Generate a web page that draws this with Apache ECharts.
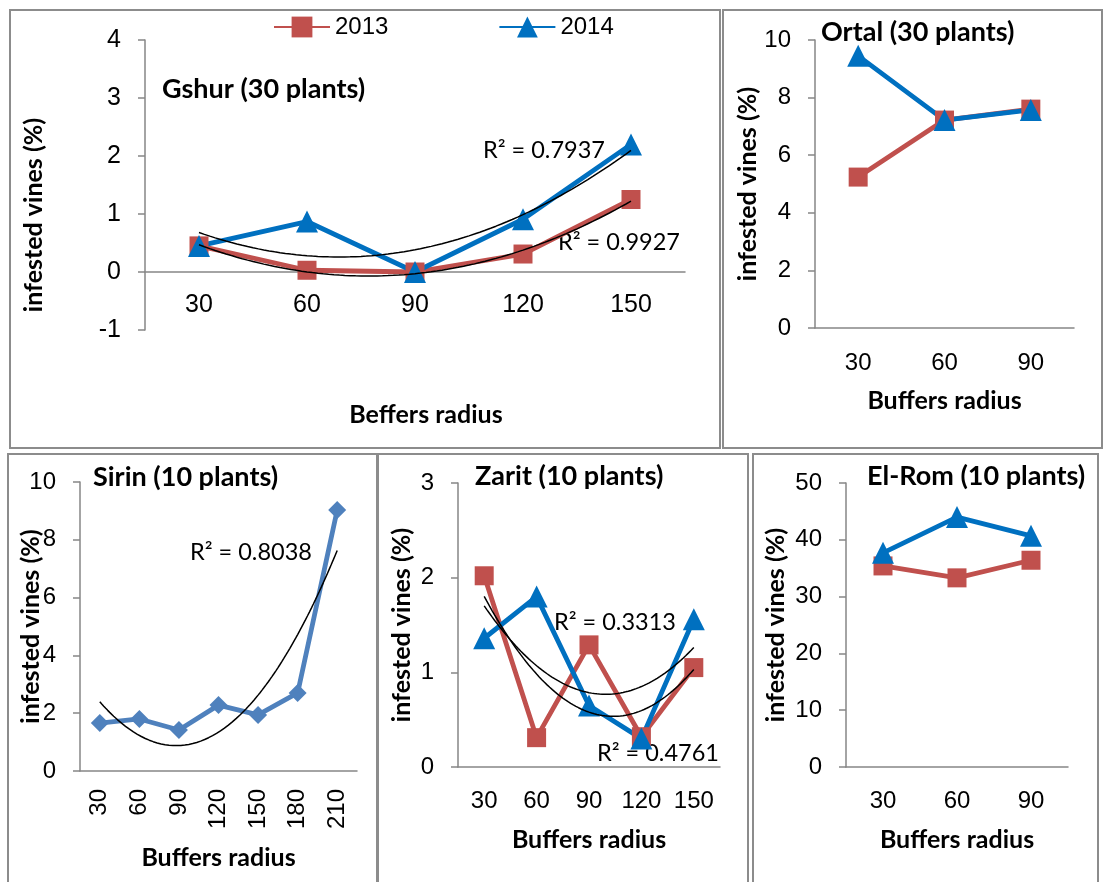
<!DOCTYPE html>
<html>
<head>
<meta charset="utf-8">
<script src="https://cdn.jsdelivr.net/npm/echarts@6/dist/echarts.min.js"></script>
<style>
html, body { margin: 0; padding: 0; background: #fff; }
#chart { width: 1105px; height: 882px; }
</style>
</head>
<body>
<div id="chart"></div>
<script>
// values (infested vines, %)
const gshurRadius = ['30', '60', '90', '120', '150'];
const gshur2013 = [0.45, 0.03, 0, 0.31, 1.25];
const gshur2014 = [0.45, 0.87, 0, 0.91, 2.2];

const ortalRadius = ['30', '60', '90'];
const ortal2013 = [5.24, 7.22, 7.6];
const ortal2014 = [9.45, 7.22, 7.57];

const sirinRadius = ['30', '60', '90', '120', '150', '180', '210'];
const sirinValues = [1.66, 1.8, 1.42, 2.28, 1.94, 2.7, 9.03];

const zaritRadius = ['30', '60', '90', '120', '150'];
const zarit2013 = [2.02, 0.31, 1.29, 0.32, 1.05];
const zarit2014 = [1.36, 1.8, 0.65, 0.3, 1.56];

const elRomRadius = ['30', '60', '90'];
const elRom2013 = [35.4, 33.3, 36.4];
const elRom2014 = [37.7, 44.0, 40.7];

const RED = '#C0504D', BLUE = '#0070C0', STEEL = '#4F81BD', AXIS = '#868686';
const CAL = 'Lato, "Open Sans", sans-serif';
const ARIAL = '"Liberation Sans", Arial, sans-serif';

// 2nd order polynomial trendline (least squares on category index)
function quadFit(ys) {
  const s = [0, 0, 0, 0, 0], t = [0, 0, 0];
  ys.forEach((y, x) => {
    for (let k = 0; k < 5; k++) s[k] += Math.pow(x, k);
    for (let k = 0; k < 3; k++) t[k] += y * Math.pow(x, k);
  });
  const m = [[s[0], s[1], s[2], t[0]], [s[1], s[2], s[3], t[1]], [s[2], s[3], s[4], t[2]]];
  for (let i = 0; i < 3; i++) {
    for (let j = i + 1; j < 3; j++) {
      const f = m[j][i] / m[i][i];
      for (let k = i; k < 4; k++) m[j][k] -= f * m[i][k];
    }
  }
  const r = [0, 0, 0];
  for (let i = 2; i >= 0; i--) {
    let v = m[i][3];
    for (let k = i + 1; k < 3; k++) v -= m[i][k] * r[k];
    r[i] = v / m[i][i];
  }
  return r;
}
function trend(ys) {
  const [a, b, c] = quadFit(ys), pts = [];
  for (let x = 0; x <= ys.length - 1 + 1e-9; x += 0.05) pts.push([x, a + b * x + c * x * x]);
  return pts;
}

const grids = [
  { left: 145, top: 40, width: 540, height: 290 },
  { left: 815, top: 40, width: 259, height: 288 },
  { left: 80, top: 482, width: 277, height: 289 },
  { left: 458, top: 483, width: 262, height: 284 },
  { left: 846, top: 483, width: 222, height: 284 }
];
const cats = [gshurRadius, ortalRadius, sirinRadius, zaritRadius, elRomRadius];
const xNames = ['Beffers radius', 'Buffers radius', 'Buffers radius', 'Buffers radius', 'Buffers radius'];
const xNameGap = [130, 60, 74, 60, 60];
const xOffset = [-58, 0, 0, 0, 0]; // gshur category axis sits on y = 0
const labelSize = [25, 24, 24, 24, 24];
const xLabelMargin = [21, 23, 18, 22, 22];
const yRange = [[-1, 4, 1], [0, 10, 2], [0, 10, 2], [0, 3, 1], [0, 50, 10]];
const yNameGap = [99, 55, 37, 44, 58];

const axisLine = { onZero: false, lineStyle: { color: AXIS, width: 1.5 } };
const axisTick = { length: 7, lineStyle: { color: AXIS, width: 1.5 } };
const nameStyle = { fontFamily: CAL, fontWeight: 'bold', fontSize: 25, color: '#000' };

const xAxis = [], yAxis = [];
cats.forEach((c, i) => {
  xAxis.push({
    type: 'category', gridIndex: i, data: c, position: 'bottom', offset: xOffset[i],
    axisLine: axisLine, axisTick: axisTick,
    axisLabel: {
      fontFamily: ARIAL, fontSize: labelSize[i], color: '#000',
      margin: xLabelMargin[i], rotate: i === 2 ? 90 : 0
    },
    name: xNames[i], nameLocation: 'middle', nameGap: xNameGap[i], nameMoveOverlap: false,
    nameTextStyle: Object.assign({}, nameStyle, i === 0 ? { padding: [0, 0, 0, 22] } : {})
  });
  yAxis.push({
    type: 'value', gridIndex: i, min: yRange[i][0], max: yRange[i][1], interval: yRange[i][2],
    position: 'left',
    axisLine: Object.assign({ show: true }, axisLine),
    axisTick: Object.assign({ show: true }, axisTick),
    splitLine: { show: false },
    axisLabel: { fontFamily: ARIAL, fontSize: labelSize[i], color: '#000', margin: 24 },
    name: 'infested vines (%)', nameLocation: 'middle', nameGap: yNameGap[i], nameMoveOverlap: false,
    nameTextStyle: Object.assign({}, nameStyle, i === 0 ? { padding: [0, 60, 0, 0] } : {})
  });
});
// hidden value axes for the trendlines, aligned with the category centres
cats.forEach((c, i) => {
  xAxis.push({ type: 'value', gridIndex: i, min: -0.5, max: c.length - 0.5, show: false });
});

function dataLine(name, data, i, color, symbol, size) {
  return {
    name: name, type: 'line', xAxisIndex: i, yAxisIndex: i, data: data,
    symbol: symbol, symbolSize: size, showSymbol: true,
    lineStyle: { color: color, width: 4.8 }, itemStyle: { color: color },
    emphasis: { disabled: true }, z: 3
  };
}
function trendLine(data, i) {
  return {
    type: 'line', xAxisIndex: 5 + i, yAxisIndex: i, data: trend(data),
    symbol: 'none', silent: true, lineStyle: { color: '#000', width: 1.5 }, z: 4
  };
}

const series = [
  dataLine('2013', gshur2013, 0, RED, 'rect', 19),
  dataLine('2014', gshur2014, 0, BLUE, 'triangle', 22),
  trendLine(gshur2014, 0),
  trendLine(gshur2013, 0),
  dataLine('2013', ortal2013, 1, RED, 'rect', 19),
  dataLine('2014', ortal2014, 1, BLUE, 'triangle', 22),
  dataLine('Sirin', sirinValues, 2, STEEL, 'diamond', 18),
  trendLine(sirinValues, 2),
  dataLine('2013', zarit2013, 3, RED, 'rect', 19),
  dataLine('2014', zarit2014, 3, BLUE, 'triangle', 22),
  trendLine(zarit2014, 3),
  trendLine(zarit2013, 3),
  dataLine('2013', elRom2013, 4, RED, 'rect', 19),
  dataLine('2014', elRom2014, 4, BLUE, 'triangle', 22)
];

const titleStyle = { fontFamily: CAL, fontWeight: 'bold', fontSize: 27, color: '#000' };
function r2(text, x, y) {
  return { type: 'text', x: x, y: y, style: { text: text, fontFamily: CAL, fontSize: 23.5, fill: '#000', verticalAlign: 'middle' } };
}
function frame(x, y, w, h) {
  return { type: 'rect', shape: { x: x, y: y, width: w, height: h }, style: { fill: 'none', stroke: '#8c8c8c', lineWidth: 2 }, silent: true };
}

const chart = echarts.init(document.getElementById('chart'));
chart.setOption({
  animation: false,
  grid: grids,
  xAxis: xAxis,
  yAxis: yAxis,
  series: series,
  legend: {
    data: ['2013', '2014'], left: 273, top: 15, padding: 0,
    itemWidth: 56, itemHeight: 26, itemGap: 110,
    textStyle: { fontFamily: ARIAL, fontSize: 24, color: '#000' }
  },
  title: [
    { text: 'Gshur (30 plants)', left: 162, top: 76, padding: 0, textStyle: titleStyle },
    { text: 'Ortal (30 plants)', left: 821, top: 19, padding: 0, textStyle: titleStyle },
    { text: 'Sirin (10 plants)', left: 93, top: 464, padding: 0, textStyle: titleStyle },
    { text: 'Zarit (10 plants)', left: 475, top: 463, padding: 0, textStyle: titleStyle },
    { text: 'El-Rom (10 plants)', left: 867, top: 463, padding: 0, textStyle: titleStyle }
  ],
  graphic: [
    frame(10, 10, 710, 438),
    frame(723, 10, 379, 438),
    frame(8, 454, 369, 440),
    frame(378, 454, 370, 440),
    frame(753, 454, 345, 440),
    r2('R² = 0.7937', 483, 150),
    r2('R² = 0.9927', 558, 242),
    r2('R² = 0.8038', 190, 552),
    r2('R² = 0.3313', 554, 622),
    r2('R² = 0.4761', 597, 753)
  ]
});
</script>
</body>
</html>
